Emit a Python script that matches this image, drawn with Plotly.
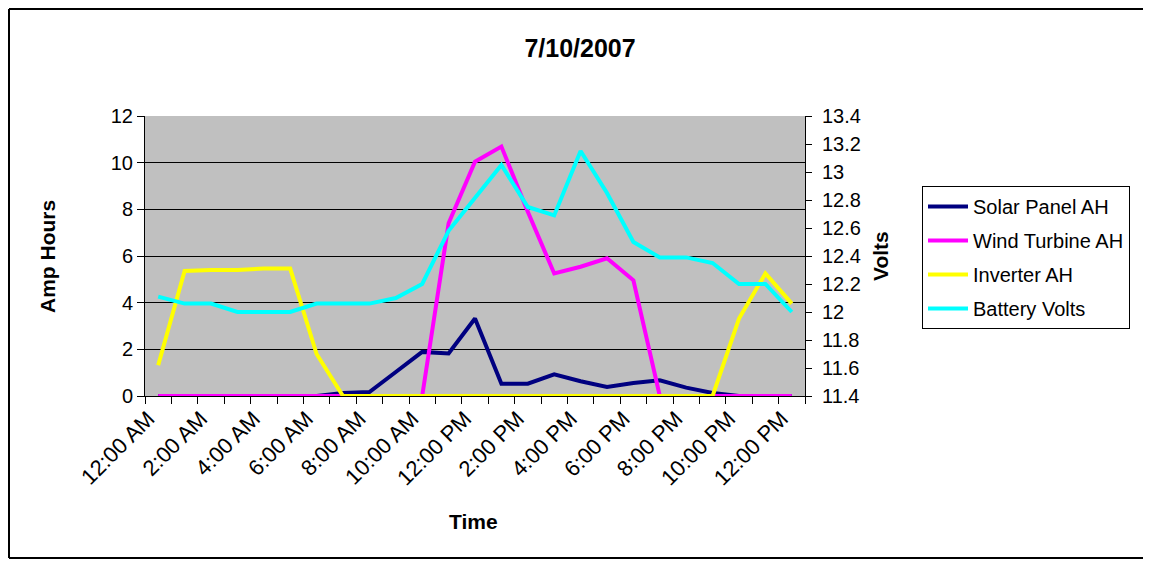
import plotly.graph_objects as go

# ---- data ----
hours = list(range(25))
time_labels = ["12:00 AM", "2:00 AM", "4:00 AM", "6:00 AM", "8:00 AM", "10:00 AM",
               "12:00 PM", "2:00 PM", "4:00 PM", "6:00 PM", "8:00 PM", "10:00 PM", "12:00 PM"]
label_hours = hours[::2]

solar_ah = [0, 0, 0, 0, 0, 0, 0, 0.13, 0.17, 1.03, 1.89, 1.82, 3.32, 0.53, 0.53,
            0.93, 0.63, 0.39, 0.56, 0.67, 0.36, 0.13, 0, 0, 0]
wind_ah = [0, 0, 0, 0, 0, 0, 0, 0, 0, 0, 0, 7.4, 10.04, 10.69, 7.9, 5.25, 5.54,
           5.9, 4.96, 0, 0, 0, 0, 0, 0]
inverter_ah = [1.32, 5.36, 5.4, 5.4, 5.46, 5.46, 1.8, 0, 0, 0, 0, 0, 0, 0, 0, 0,
               0, 0, 0, 0, 0, 0, 3.32, 5.25, 3.96]
battery_volts = [12.11, 12.06, 12.06, 12.0, 12.0, 12.0, 12.06, 12.06, 12.06, 12.1,
                 12.2, 12.58, 12.82, 13.05, 12.75, 12.69, 13.15, 12.85, 12.5, 12.39,
                 12.39, 12.35, 12.2, 12.2, 12.0]

FONT = "Liberation Sans, Arial, sans-serif"

# The page body adds an 8px margin on every side, so the figure is made
# smaller and all page-pixel positions below are shifted by OFF.
OFF = 8
W, H = 1151 - 2 * OFF, 567 - 2 * OFF
L, R, T, B = 145 - OFF, 805 - OFF, 116 - OFF, 396 - OFF


def px_x(p):
    return (p - OFF - L) / (R - L)


def px_y(p):
    return (B - (p - OFF)) / (B - T)


fig = go.Figure()
series = [
    ("Solar Panel AH", solar_ah, "#000080", "y"),
    ("Wind Turbine AH", wind_ah, "#FF00FF", "y"),
    ("Inverter AH", inverter_ah, "#FFFF00", "y"),
    ("Battery Volts", battery_volts, "#00FFFF", "y2"),
]
for i, (name, vals, col, ax) in enumerate(series):
    fig.add_trace(go.Scatter(x=hours, y=vals, name=name, mode="lines",
                             line=dict(color=col, width=4), yaxis=ax,
                             legendgroup=f"g{i}"))

border = dict(color="black", width=2)
bottom_px = OFF + H - 1
right_px = OFF + W + 5
fig.update_layout(
    width=W, height=H,
    margin=dict(l=L, r=W - R, t=T, b=H - B),
    paper_bgcolor="white",
    plot_bgcolor="#C0C0C0",
    font=dict(family=FONT, size=20, color="black"),
    title=dict(text="7/10/2007", x=(580 - OFF) / W, xref="container",
               y=1 - (48 - OFF) / H, yref="container", xanchor="center",
               yanchor="middle",
               font=dict(family=FONT, size=25, color="black", weight="bold")),
    showlegend=True,
    legend=dict(x=px_x(922), y=px_y(186), xanchor="left", yanchor="top",
                bgcolor="white", bordercolor="black", borderwidth=1,
                font=dict(family=FONT, size=20, color="black"),
                tracegroupgap=5, itemwidth=40, entrywidth=160,
                entrywidthmode="pixels"),
    xaxis=dict(range=[-0.5, 24.5], tickmode="array", tickvals=label_hours,
               ticktext=time_labels, tickangle=-45, ticks="",
               ticklabelshift=-10,
               showline=True, linecolor="black", linewidth=1, showgrid=False,
               zeroline=False, tickfont=dict(family=FONT, size=22, color="black"),
               minor=dict(tickmode="linear", tick0=-0.5, dtick=1, ticks="outside",
                          ticklen=7, tickcolor="black", showgrid=False)),
    yaxis=dict(range=[0, 12], tickmode="linear", tick0=0, dtick=2,
               showline=True, linecolor="black", linewidth=1,
               showgrid=True, gridcolor="black", gridwidth=1, zeroline=False,
               ticks="outside", ticklen=7, tickcolor="black",
               tickfont=dict(family=FONT, size=20, color="black")),
    yaxis2=dict(range=[11.4, 13.4], tickmode="linear", tick0=11.4, dtick=0.2,
                overlaying="y", side="right", anchor="x",
                showline=True, linecolor="black", linewidth=1, showgrid=False,
                zeroline=False, ticks="outside", ticklen=6, tickcolor="black",
                ticklabelstandoff=6,
                tickfont=dict(family=FONT, size=20, color="black")),
    annotations=[
        dict(text="Amp Hours", x=px_x(47), y=0.5, xref="paper", yref="paper",
             textangle=-90, showarrow=False, xanchor="center", yanchor="middle",
             font=dict(family=FONT, size=21, color="black", weight="bold")),
        dict(text="Volts", x=px_x(880), y=px_y(256), xref="paper", yref="paper",
             textangle=-90, showarrow=False, xanchor="center", yanchor="middle",
             font=dict(family=FONT, size=21, color="black", weight="bold")),
        dict(text="Time", x=px_x(473), y=px_y(521), xref="paper", yref="paper",
             showarrow=False, xanchor="center", yanchor="middle",
             font=dict(family=FONT, size=21, color="black", weight="bold")),
    ],
    shapes=[
        dict(type="line", xref="paper", yref="paper", x0=px_x(OFF + 1),
             x1=px_x(OFF + 1), y0=px_y(bottom_px), y1=px_y(OFF + 1), line=border),
        dict(type="line", xref="paper", yref="paper", x0=px_x(OFF + 1),
             x1=px_x(right_px), y0=px_y(OFF + 1), y1=px_y(OFF + 1), line=border),
        dict(type="line", xref="paper", yref="paper", x0=px_x(OFF + 1),
             x1=px_x(right_px), y0=px_y(bottom_px), y1=px_y(bottom_px), line=border),
    ],
)

fig.write_html("out.html")
